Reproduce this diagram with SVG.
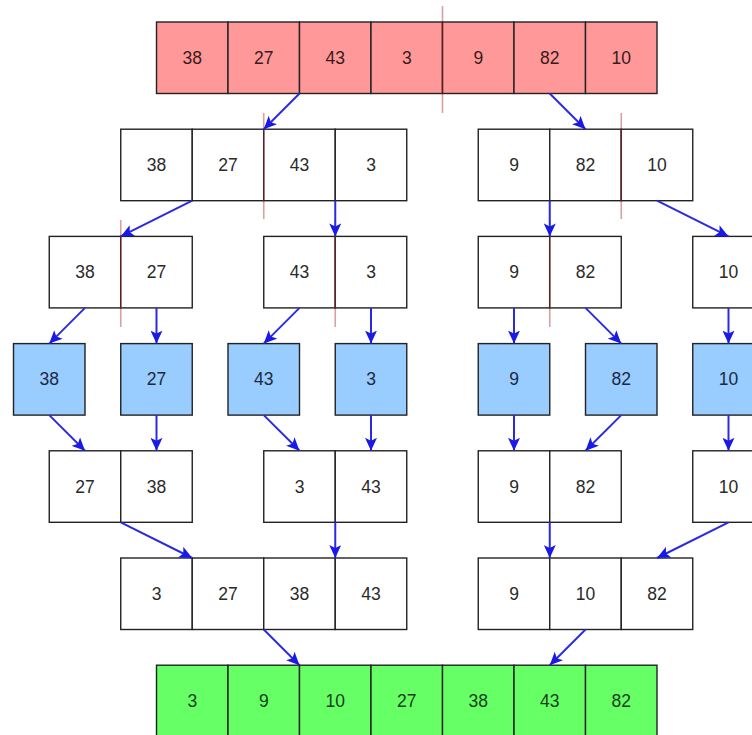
<svg xmlns="http://www.w3.org/2000/svg" width="752" height="735" viewBox="0 0 752 735">
<style>
rect{stroke:#222;stroke-width:1.4}
rect.bg{stroke:none;fill:#fff}
.w{fill:#fff}.r{fill:#ff9999}.b{fill:#99ccff}.g{fill:#66ff66}
text{font-family:"Liberation Sans",Arial,sans-serif;font-size:17.5px;text-anchor:middle;fill:#2a2a2a}
.tr text{fill:#3a1a1a}.tb text{fill:#1a2a40}.tg text{fill:#1a401a}
.c line{stroke:#2a2ae0;stroke-width:2;marker-end:url(#ah)}
.d line{stroke:#a02020;stroke-width:1.6;stroke-opacity:0.42}
</style>
<defs>
<marker id="ah" markerUnits="userSpaceOnUse" markerWidth="14" markerHeight="12" refX="13" refY="6" orient="auto">
<path d="M0,0 L13,6 L0,12 L3,6 z" fill="#1a1ae6"/>
</marker>
</defs>
<rect class="bg" x="0" y="0" width="752" height="735"/>

<g id="n_top" class="tr">
<rect class="r" x="156.5" y="22" width="71.5" height="71.5"/><text x="192.25" y="63.75">38</text>
<rect class="r" x="228" y="22" width="71.5" height="71.5"/><text x="263.75" y="63.75">27</text>
<rect class="r" x="299.5" y="22" width="71.5" height="71.5"/><text x="335.25" y="63.75">43</text>
<rect class="r" x="371" y="22" width="71.5" height="71.5"/><text x="406.75" y="63.75">3</text>
<rect class="r" x="442.5" y="22" width="71.5" height="71.5"/><text x="478.25" y="63.75">9</text>
<rect class="r" x="514" y="22" width="71.5" height="71.5"/><text x="549.75" y="63.75">82</text>
<rect class="r" x="585.5" y="22" width="71.5" height="71.5"/><text x="621.25" y="63.75">10</text>
</g>

<g id="n_r1_left">
<rect class="w" x="120.75" y="129.2" width="71.5" height="71.5"/><text x="156.5" y="170.95">38</text>
<rect class="w" x="192.25" y="129.2" width="71.5" height="71.5"/><text x="228" y="170.95">27</text>
<rect class="w" x="263.75" y="129.2" width="71.5" height="71.5"/><text x="299.5" y="170.95">43</text>
<rect class="w" x="335.25" y="129.2" width="71.5" height="71.5"/><text x="371" y="170.95">3</text>
</g>
<g id="n_r1_right">
<rect class="w" x="478.25" y="129.2" width="71.5" height="71.5"/><text x="514" y="170.95">9</text>
<rect class="w" x="549.75" y="129.2" width="71.5" height="71.5"/><text x="585.5" y="170.95">82</text>
<rect class="w" x="621.25" y="129.2" width="71.5" height="71.5"/><text x="657" y="170.95">10</text>
</g>

<g id="n_r2_a">
<rect class="w" x="49.25" y="236.4" width="71.5" height="71.5"/><text x="85" y="278.15">38</text>
<rect class="w" x="120.75" y="236.4" width="71.5" height="71.5"/><text x="156.5" y="278.15">27</text>
</g>
<g id="n_r2_b">
<rect class="w" x="263.75" y="236.4" width="71.5" height="71.5"/><text x="299.5" y="278.15">43</text>
<rect class="w" x="335.25" y="236.4" width="71.5" height="71.5"/><text x="371" y="278.15">3</text>
</g>
<g id="n_r2_c">
<rect class="w" x="478.25" y="236.4" width="71.5" height="71.5"/><text x="514" y="278.15">9</text>
<rect class="w" x="549.75" y="236.4" width="71.5" height="71.5"/><text x="585.5" y="278.15">82</text>
</g>
<g id="n_r2_d">
<rect class="w" x="692.75" y="236.4" width="71.5" height="71.5"/><text x="728.5" y="278.15">10</text>
</g>

<g id="n_r3_38" class="tb"><rect class="b" x="13.5" y="343.6" width="71.5" height="71.5"/><text x="49.25" y="385.35">38</text></g>
<g id="n_r3_27" class="tb"><rect class="b" x="120.75" y="343.6" width="71.5" height="71.5"/><text x="156.5" y="385.35">27</text></g>
<g id="n_r3_43" class="tb"><rect class="b" x="228" y="343.6" width="71.5" height="71.5"/><text x="263.75" y="385.35">43</text></g>
<g id="n_r3_3" class="tb"><rect class="b" x="335.25" y="343.6" width="71.5" height="71.5"/><text x="371" y="385.35">3</text></g>
<g id="n_r3_9" class="tb"><rect class="b" x="478.25" y="343.6" width="71.5" height="71.5"/><text x="514" y="385.35">9</text></g>
<g id="n_r3_82" class="tb"><rect class="b" x="585.5" y="343.6" width="71.5" height="71.5"/><text x="621.25" y="385.35">82</text></g>
<g id="n_r3_10" class="tb"><rect class="b" x="692.75" y="343.6" width="71.5" height="71.5"/><text x="728.5" y="385.35">10</text></g>

<g id="n_r4_a">
<rect class="w" x="49.25" y="450.8" width="71.5" height="71.5"/><text x="85" y="492.55">27</text>
<rect class="w" x="120.75" y="450.8" width="71.5" height="71.5"/><text x="156.5" y="492.55">38</text>
</g>
<g id="n_r4_b">
<rect class="w" x="263.75" y="450.8" width="71.5" height="71.5"/><text x="299.5" y="492.55">3</text>
<rect class="w" x="335.25" y="450.8" width="71.5" height="71.5"/><text x="371" y="492.55">43</text>
</g>
<g id="n_r4_c">
<rect class="w" x="478.25" y="450.8" width="71.5" height="71.5"/><text x="514" y="492.55">9</text>
<rect class="w" x="549.75" y="450.8" width="71.5" height="71.5"/><text x="585.5" y="492.55">82</text>
</g>
<g id="n_r4_d">
<rect class="w" x="692.75" y="450.8" width="71.5" height="71.5"/><text x="728.5" y="492.55">10</text>
</g>

<g id="n_r5_left">
<rect class="w" x="120.75" y="558" width="71.5" height="71.5"/><text x="156.5" y="599.75">3</text>
<rect class="w" x="192.25" y="558" width="71.5" height="71.5"/><text x="228" y="599.75">27</text>
<rect class="w" x="263.75" y="558" width="71.5" height="71.5"/><text x="299.5" y="599.75">38</text>
<rect class="w" x="335.25" y="558" width="71.5" height="71.5"/><text x="371" y="599.75">43</text>
</g>
<g id="n_r5_right">
<rect class="w" x="478.25" y="558" width="71.5" height="71.5"/><text x="514" y="599.75">9</text>
<rect class="w" x="549.75" y="558" width="71.5" height="71.5"/><text x="585.5" y="599.75">10</text>
<rect class="w" x="621.25" y="558" width="71.5" height="71.5"/><text x="657" y="599.75">82</text>
</g>

<g id="n_bottom" class="tg">
<rect class="g" x="156.5" y="665.2" width="71.5" height="71.5"/><text x="192.25" y="706.95">3</text>
<rect class="g" x="228" y="665.2" width="71.5" height="71.5"/><text x="263.75" y="706.95">9</text>
<rect class="g" x="299.5" y="665.2" width="71.5" height="71.5"/><text x="335.25" y="706.95">10</text>
<rect class="g" x="371" y="665.2" width="71.5" height="71.5"/><text x="406.75" y="706.95">27</text>
<rect class="g" x="442.5" y="665.2" width="71.5" height="71.5"/><text x="478.25" y="706.95">38</text>
<rect class="g" x="514" y="665.2" width="71.5" height="71.5"/><text x="549.75" y="706.95">43</text>
<rect class="g" x="585.5" y="665.2" width="71.5" height="71.5"/><text x="621.25" y="706.95">82</text>
</g>

<g id="dividers" class="d">
<line x1="442.5" y1="6" x2="442.5" y2="113"/>
<line x1="263.75" y1="113" x2="263.75" y2="219"/>
<line x1="621.25" y1="113" x2="621.25" y2="219"/>
<line x1="120.75" y1="220" x2="120.75" y2="327"/>
<line x1="335.25" y1="220" x2="335.25" y2="327"/>
<line x1="549.75" y1="220" x2="549.75" y2="327"/>
</g>

<g id="connectors" class="c">
<line x1="299.5" y1="93.5" x2="263.75" y2="129.2"/>
<line x1="549.75" y1="93.5" x2="585.5" y2="129.2"/>
<line x1="192.25" y1="200.7" x2="120.75" y2="236.4"/>
<line x1="335.25" y1="200.7" x2="335.25" y2="236.4"/>
<line x1="549.75" y1="200.7" x2="549.75" y2="236.4"/>
<line x1="657" y1="200.7" x2="728.5" y2="236.4"/>
<line x1="85" y1="307.9" x2="49.25" y2="343.6"/>
<line x1="156.5" y1="307.9" x2="156.5" y2="343.6"/>
<line x1="299.5" y1="307.9" x2="263.75" y2="343.6"/>
<line x1="371" y1="307.9" x2="371" y2="343.6"/>
<line x1="514" y1="307.9" x2="514" y2="343.6"/>
<line x1="585.5" y1="307.9" x2="621.25" y2="343.6"/>
<line x1="728.5" y1="307.9" x2="728.5" y2="343.6"/>
<line x1="49.25" y1="415.1" x2="85" y2="450.8"/>
<line x1="156.5" y1="415.1" x2="156.5" y2="450.8"/>
<line x1="263.75" y1="415.1" x2="299.5" y2="450.8"/>
<line x1="371" y1="415.1" x2="371" y2="450.8"/>
<line x1="514" y1="415.1" x2="514" y2="450.8"/>
<line x1="621.25" y1="415.1" x2="585.5" y2="450.8"/>
<line x1="728.5" y1="415.1" x2="728.5" y2="450.8"/>
<line x1="120.75" y1="522.3" x2="192.25" y2="558"/>
<line x1="335.25" y1="522.3" x2="335.25" y2="558"/>
<line x1="549.75" y1="522.3" x2="549.75" y2="558"/>
<line x1="728.5" y1="522.3" x2="657" y2="558"/>
<line x1="263.75" y1="629.5" x2="299.5" y2="665.2"/>
<line x1="585.5" y1="629.5" x2="549.75" y2="665.2"/>
</g>
</svg>
